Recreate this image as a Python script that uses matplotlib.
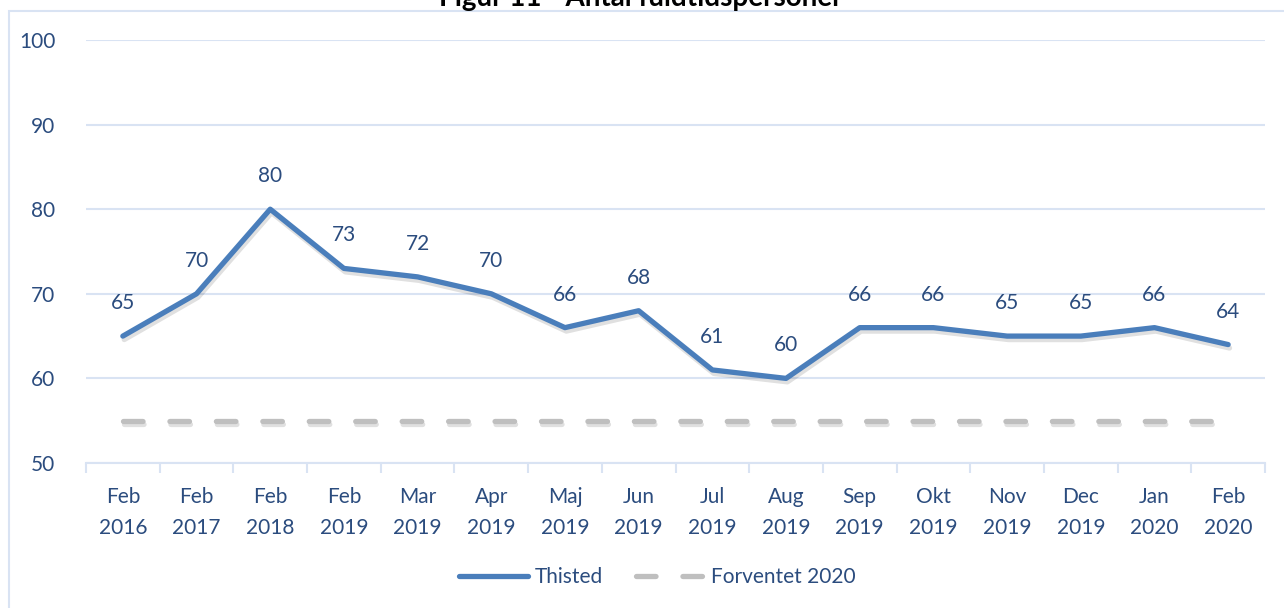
import matplotlib
matplotlib.use("Agg")
import matplotlib.pyplot as plt
import matplotlib.patheffects as pe
from matplotlib.patches import Rectangle
from matplotlib.lines import Line2D

# Data
months = ["Feb\n2016", "Feb\n2017", "Feb\n2018", "Feb\n2019", "Mar\n2019", "Apr\n2019",
          "Maj\n2019", "Jun\n2019", "Jul\n2019", "Aug\n2019", "Sep\n2019", "Okt\n2019",
          "Nov\n2019", "Dec\n2019", "Jan\n2020", "Feb\n2020"]
thisted = [65, 70, 80, 73, 72, 70, 66, 68, 61, 60, 66, 66, 65, 65, 66, 64]
forventet = [55] * len(months)
y_ticks = [50, 60, 70, 80, 90, 100]

TEXT = "#2B4C7E"
BLUE = "#4A7EBB"
GREY = "#BFBFBF"
GRID = "#D9E3F3"
DASH = (3.7, 5.1)

plt.rcParams["font.family"] = ["Lato", "DejaVu Sans"]

W, H = 1284, 608
fig = plt.figure(figsize=(W / 100, H / 100), dpi=100)
ax = fig.add_axes([86 / W, 1 - 463 / H, (1265 - 86) / W, (463 - 40) / H])

# Chart area border (extends past the right and bottom edges)
fig.patches.append(Rectangle((9 / W, -0.1), 1.2, 1 - 11 / H + 0.1, transform=fig.transFigure,
                             fill=False, edgecolor=GRID, linewidth=1.5))

x = list(range(len(months)))
shadow = [pe.SimpleLineShadow(offset=(1, -2.5), alpha=0.12), pe.Normal()]

ax.plot(x, forventet, color=GREY, linewidth=3.8, dash_capstyle="round",
        dashes=DASH, path_effects=shadow, zorder=3)
ax.plot(x, thisted, color=BLUE, linewidth=3.8, solid_capstyle="round",
        solid_joinstyle="round", path_effects=shadow, zorder=4)

for xi, v in zip(x, thisted):
    ax.annotate(str(v), (xi, v), xytext=(0, 23), textcoords="offset pixels",
                ha="center", va="bottom", fontsize=15, color=TEXT)

ax.set_xlim(-0.5, len(months) - 0.5)
ax.set_ylim(50, 100)
ax.set_yticks(y_ticks)
ax.set_xticks(x)
ax.set_xticklabels(months)
ax.tick_params(axis="x", length=0, pad=17, labelsize=15, labelcolor=TEXT)
ax.tick_params(axis="y", length=0, pad=22, labelsize=15, labelcolor=TEXT)
for t in ax.get_xticklabels():
    t.set_linespacing(1.7)

# Category boundary ticks below the axis
ax.set_xticks([i - 0.5 for i in range(len(months) + 1)], minor=True)
ax.tick_params(axis="x", which="minor", length=7, width=1.5, color=GRID)

ax.grid(axis="y", color=GRID, linewidth=1.5)
ax.set_axisbelow(True)
for side in ["left", "right", "top"]:
    ax.spines[side].set_visible(False)
ax.spines["bottom"].set_color(GRID)
ax.spines["bottom"].set_linewidth(1.5)

# Title sits partly above the top edge, as in the reference
fig.text(0.499, 1 - 6 / H, "Figur 11 - Antal fuldtidspersoner", ha="center", va="baseline",
         fontsize=20, fontweight="bold", color="black")

handles = [Line2D([], [], color=BLUE, linewidth=3.8, solid_capstyle="round"),
           Line2D([], [], color=GREY, linewidth=3.8, dash_capstyle="round", dashes=DASH)]
fig.legend(handles, ["Thisted", "Forventet 2020"], loc="center", bbox_to_anchor=(0.512, 1 - 577 / H),
           ncol=2, frameon=False, fontsize=15, labelcolor=TEXT, handlelength=3.3,
           handletextpad=0.3, columnspacing=1.6)

fig.savefig("out.png", dpi=100)
